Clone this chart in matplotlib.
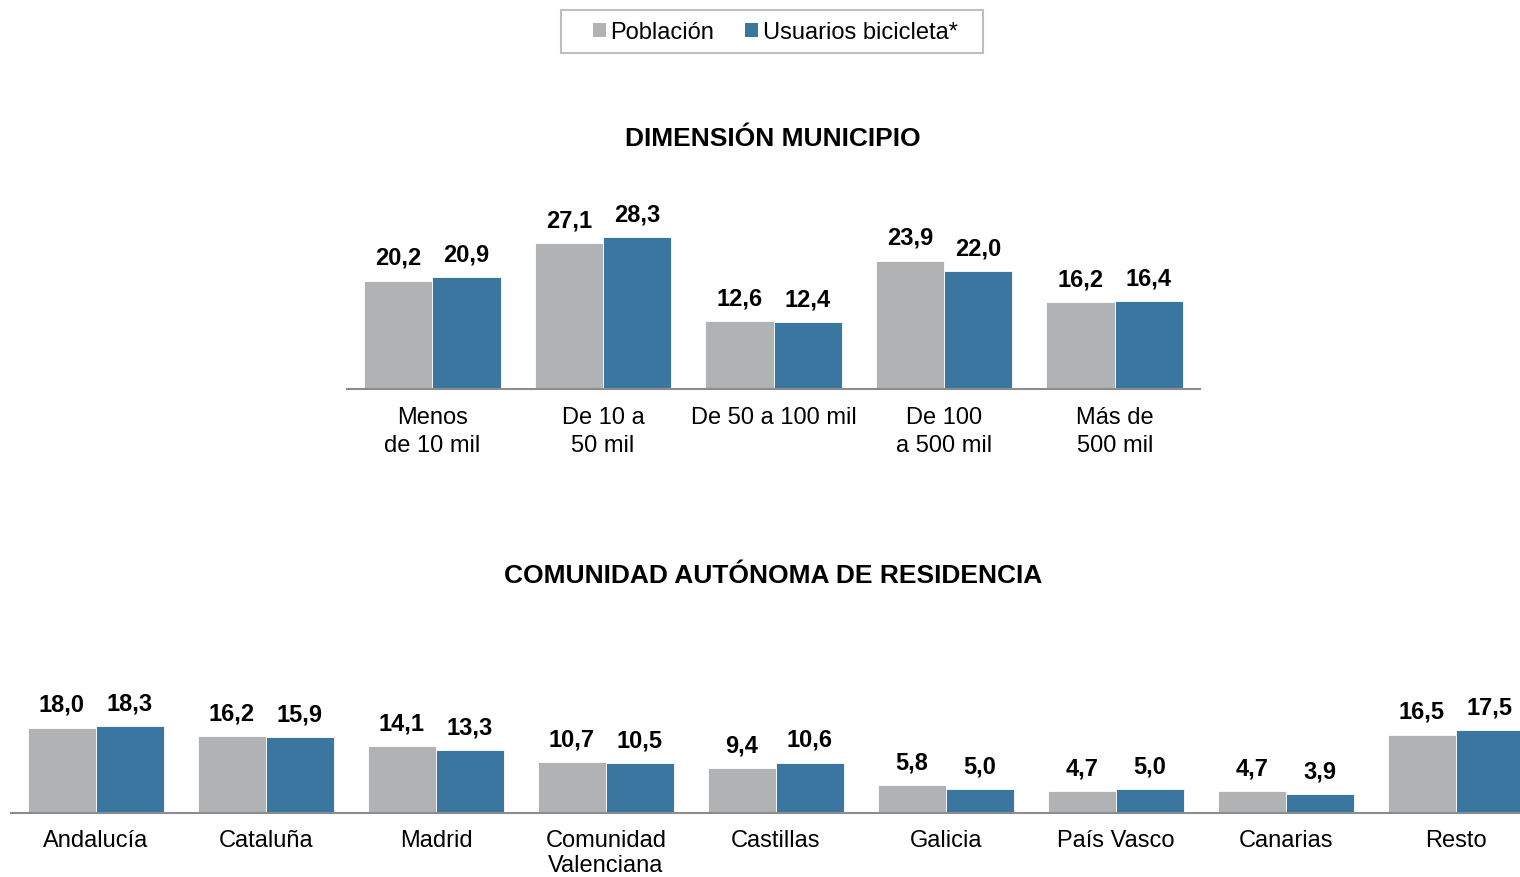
import matplotlib
matplotlib.use('Agg')
import matplotlib.pyplot as plt
from matplotlib.patches import Patch, Rectangle
import numpy as np

plt.rcParams['font.family'] = ['Liberation Sans', 'DejaVu Sans']

# datos
municipios = ['Menos\nde 10 mil', 'De 10 a\n50 mil', 'De 50 a 100 mil', 'De 100\na 500 mil', 'Más de\n500 mil']
mun_poblacion = [20.2, 27.1, 12.6, 23.9, 16.2]
mun_usuarios = [20.9, 28.3, 12.4, 22.0, 16.4]

comunidades = ['Andalucía', 'Cataluña', 'Madrid', 'Comunidad\nValenciana', 'Castillas',
               'Galicia', 'País Vasco', 'Canarias', 'Resto']
com_poblacion = [18.0, 16.2, 14.1, 10.7, 9.4, 5.8, 4.7, 4.7, 16.5]
com_usuarios = [18.3, 15.9, 13.3, 10.5, 10.6, 5.0, 5.0, 3.9, 17.5]

GRIS = '#b1b2b4'
AZUL = '#3a76a0'
W, H = 1520, 878

fig = plt.figure(figsize=(15.2, 8.78), dpi=100)


def px_axes(l, t, r, b):
    return fig.add_axes([l / W, 1 - b / H, (r - l) / W, (b - t) / H])


def fmt(v):
    return f'{v:.1f}'.replace('.', ',')


def barras(ax, cats, pob, usu, ymax, interlinea=1.35, pad=12.5):
    x = np.arange(len(cats))
    w = 0.4
    ax.bar(x - w / 2, pob, w, color=GRIS, edgecolor='white', linewidth=0.6)
    ax.bar(x + w / 2, usu, w, color=AZUL, edgecolor='white', linewidth=0.6)
    for xi, v in zip(x - w / 2, pob):
        ax.annotate(fmt(v), (xi, v), xytext=(0, 12), textcoords='offset points',
                    ha='center', va='baseline', fontsize=17, fontweight='bold')
    for xi, v in zip(x + w / 2, usu):
        ax.annotate(fmt(v), (xi, v), xytext=(0, 12), textcoords='offset points',
                    ha='center', va='baseline', fontsize=17, fontweight='bold')
    ax.set_xlim(-0.5, len(cats) - 0.5)
    ax.set_ylim(0, ymax)
    ax.set_xticks(x, cats, fontsize=17, linespacing=interlinea)
    ax.tick_params(axis='x', length=0, pad=pad)
    ax.set_yticks([])
    for s in ['top', 'left', 'right']:
        ax.spines[s].set_visible(False)
    ax.spines['bottom'].set_color('#8c8c8c')
    ax.spines['bottom'].set_linewidth(1.5)
    ax.patch.set_alpha(0)


ax1 = px_axes(347, 152, 1200, 390)
barras(ax1, municipios, mun_poblacion, mun_usuarios, (390 - 152) / 5.37)

ax2 = px_axes(11, 642, 1541, 814)
barras(ax2, comunidades, com_poblacion, com_usuarios, (814 - 642) / 4.75,
       interlinea=1.2, pad=11.5)

fig.text(773 / W, 1 - 139 / H, 'DIMENSIÓN MUNICIPIO', ha='center', va='center',
         fontsize=19, fontweight='bold')
fig.text(773 / W, 1 - 576 / H, 'COMUNIDAD AUTÓNOMA DE RESIDENCIA', ha='center', va='center',
         fontsize=19, fontweight='bold')

# leyenda con marco dibujado aparte
fig.add_artist(Rectangle((561 / W, 1 - 54 / H), (983 - 561) / W, 43 / H,
                         transform=fig.transFigure, facecolor='white',
                         edgecolor='#bfbfbf', linewidth=1.5))
handles = [Patch(facecolor=GRIS, label='Población'),
           Patch(facecolor=AZUL, label='Usuarios bicicleta*')]
fig.legend(handles=handles, loc='center', bbox_to_anchor=(775 / W, 1 - 33 / H),
           ncol=2, fontsize=17, frameon=False,
           handlelength=0.55, handleheight=0.55, handletextpad=0.2,
           columnspacing=1.3, borderpad=0, borderaxespad=0)

fig.savefig('out.png', dpi=100)
